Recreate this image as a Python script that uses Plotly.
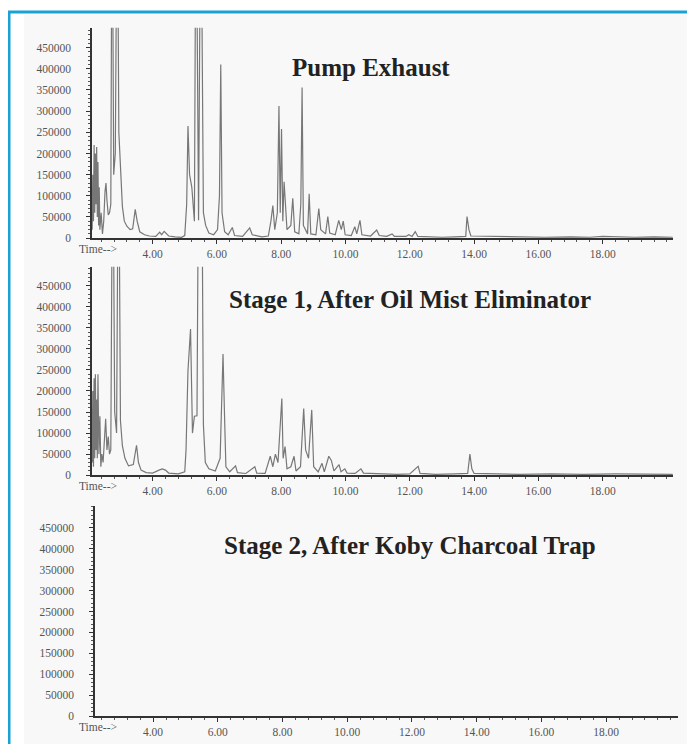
import plotly.graph_objects as go

# ---- data (time in min, abundance) ----
pump_time = [2.12, 2.14, 2.16, 2.18, 2.20, 2.22, 2.24, 2.26, 2.28, 2.30, 2.32, 2.34, 2.36, 2.40,
             2.44, 2.48, 2.52, 2.55, 2.58, 2.62, 2.66, 2.70, 2.74, 2.79, 2.84, 2.90, 2.95, 3.00,
             3.06, 3.12, 3.20, 3.30, 3.38, 3.46, 3.52, 3.60, 3.75, 3.90, 4.10, 4.22, 4.28, 4.36,
             4.44, 4.50, 4.70, 4.90, 5.00, 5.06, 5.10, 5.15, 5.22, 5.30, 5.35, 5.43, 5.50, 5.58,
             5.65, 5.75, 5.90, 6.02, 6.08, 6.12, 6.16, 6.24, 6.35, 6.48, 6.55, 6.80, 7.02, 7.10,
             7.40, 7.60, 7.68, 7.74, 7.80, 7.88, 7.93, 7.97, 8.01, 8.05, 8.09, 8.18, 8.30, 8.36,
             8.42, 8.55, 8.61, 8.65, 8.69, 8.82, 8.87, 8.92, 9.08, 9.17, 9.23, 9.38, 9.45, 9.51,
             9.68, 9.79, 9.87, 9.93, 9.99, 10.18, 10.29, 10.35, 10.45, 10.51, 10.78, 10.97, 11.05,
             11.28, 11.45, 11.52, 11.88, 11.97, 12.07, 12.17, 12.25, 12.60, 13.00, 13.40, 13.74,
             13.78, 13.84, 13.90, 14.40, 14.80, 15.40, 16.20, 17.00, 17.60, 18.00, 18.60, 19.00,
             19.60, 20.18]
pump_signal = [20000, 150000, 40000, 220000, 60000, 200000, 80000, 215000, 50000, 180000, 30000,
               120000, 20000, 60000, 10000, 40000, 110000, 130000, 90000, 55000, 60000, 80000,
               900000, 150000, 200000, 900000, 250000, 160000, 75000, 40000, 28000, 20000, 22000,
               68000, 40000, 15000, 8000, 5000, 4000, 14000, 8000, 16000, 10000, 5000, 3000, 2000,
               6000, 80000, 265000, 150000, 120000, 40000, 900000, 42000, 900000, 60000, 30000,
               12000, 8000, 20000, 100000, 410000, 60000, 15000, 8000, 25000, 6000, 4000, 24000,
               8000, 3000, 5000, 40000, 77000, 20000, 60000, 312000, 60000, 258000, 40000, 133000,
               20000, 30000, 94000, 15000, 10000, 80000, 356000, 30000, 10000, 105000, 10000, 8000,
               70000, 20000, 10000, 51000, 12000, 8000, 42000, 20000, 40000, 8000, 6000, 27000,
               10000, 42000, 8000, 5000, 19000, 6000, 4000, 10000, 4000, 4000, 8000, 4000, 15000,
               4000, 3000, 2000, 3000, 4000, 51000, 20000, 5000, 4000, 4000, 3000, 2000, 3000,
               2000, 4000, 3000, 2000, 3000, 2000, 2000]

stage1_time = [2.12, 2.14, 2.16, 2.18, 2.20, 2.22, 2.24, 2.26, 2.28, 2.30, 2.33, 2.36, 2.39, 2.42,
               2.46, 2.50, 2.54, 2.58, 2.62, 2.66, 2.70, 2.76, 2.82, 2.88, 2.94, 3.00, 3.06, 3.14,
               3.25, 3.40, 3.50, 3.56, 3.64, 3.80, 4.00, 4.20, 4.30, 4.40, 4.50, 4.80, 5.00, 5.04,
               5.10, 5.18, 5.24, 5.30, 5.38, 5.44, 5.52, 5.58, 5.64, 5.75, 5.95, 6.10, 6.19, 6.24,
               6.28, 6.40, 6.58, 6.64, 6.90, 7.18, 7.24, 7.50, 7.66, 7.74, 7.82, 7.90, 8.02, 8.06,
               8.12, 8.18, 8.30, 8.40, 8.46, 8.60, 8.70, 8.76, 8.85, 8.95, 9.01, 9.15, 9.27, 9.34,
               9.48, 9.56, 9.64, 9.80, 9.86, 9.98, 10.05, 10.30, 10.48, 10.56, 10.80, 11.20, 11.60,
               12.00, 12.26, 12.32, 12.80, 13.40, 13.80, 13.87, 13.93, 14.00, 14.60, 15.40, 16.40,
               17.40, 18.40, 19.40, 20.18]
stage1_signal = [30000, 200000, 20000, 230000, 40000, 240000, 60000, 180000, 40000, 240000, 50000,
                 140000, 20000, 50000, 30000, 100000, 134000, 60000, 92000, 50000, 60000, 900000,
                 150000, 100000, 900000, 130000, 70000, 40000, 22000, 25000, 71000, 30000, 12000,
                 6000, 5000, 12000, 15000, 12000, 5000, 3000, 8000, 60000, 248000, 347000, 100000,
                 140000, 141000, 900000, 900000, 120000, 30000, 15000, 10000, 40000, 288000, 133000,
                 20000, 8000, 22000, 6000, 4000, 20000, 5000, 4000, 45000, 20000, 50000, 30000,
                 182000, 40000, 68000, 15000, 20000, 45000, 10000, 20000, 158000, 60000, 40000,
                 155000, 20000, 8000, 28000, 8000, 45000, 35000, 10000, 25000, 8000, 15000, 5000,
                 4000, 15000, 5000, 4000, 3000, 2000, 3000, 21000, 4000, 2000, 3000, 4000, 50000,
                 15000, 4000, 3000, 2000, 3000, 2000, 3000, 2000, 2000]

# stage 2: nothing detected
stage2_time = []
stage2_signal = []

titles = ["Pump Exhaust", "Stage 1, After Oil Mist Eliminator", "Stage 2, After Koby Charcoal Trap"]
y_ticks = [0, 50000, 100000, 150000, 200000, 250000, 300000, 350000, 400000, 450000]
x_ticks = [4, 6, 8, 10, 12, 14, 16, 18]

# the page body has an 8px margin, so the figure is made smaller and
# positions below are given in window pixels, shifted by that margin
W, H = 679, 736
OFF = 8

def px(x):
    return (x - OFF) / W

def py(y):
    return 1 - (y - OFF) / H

fig = go.Figure()
fig.add_trace(go.Scatter(x=pump_time, y=pump_signal, mode="lines",
                         line=dict(color="#777777", width=1.2), xaxis="x", yaxis="y"))
fig.add_trace(go.Scatter(x=stage1_time, y=stage1_signal, mode="lines",
                         line=dict(color="#777777", width=1.2), xaxis="x2", yaxis="y2"))
fig.add_trace(go.Scatter(x=stage2_time, y=stage2_signal, mode="lines",
                         line=dict(color="#777777", width=1.2), xaxis="x3", yaxis="y3"))

tick_font = dict(family="Liberation Serif", size=11.5, color="#555555")

# (x domain px, x range, y domain px (bottom, top), y max)
panels = [
    ((92, 673), (2.115, 20.187), (240, 28), 496900),
    ((92, 673), (2.115, 20.187), (479, 269), 494800),
    ((95, 678), (2.206, 20.22), (722, 510), 502100),
]

layout = dict(
    width=W, height=H, margin=dict(l=0, r=0, t=0, b=0),
    paper_bgcolor="white", plot_bgcolor="rgba(0,0,0,0)", showlegend=False,
)
for i, (xd, xr, yd, ymax) in enumerate(panels):
    sfx = "" if i == 0 else str(i + 1)
    layout["xaxis" + sfx] = dict(
        domain=[px(xd[0]), min(px(xd[1]), 1)], range=list(xr), anchor="y" + sfx,
        showgrid=False, zeroline=False, showline=True, linecolor="#333333", linewidth=1.5,
        tickvals=x_ticks, ticktext=[f"{v:.2f}" for v in x_ticks],
        ticks="outside", ticklen=4, tickcolor="#333333", tickfont=tick_font,
        minor=dict(tick0=4, dtick=0.4, ticks="outside", ticklen=2, tickcolor="#555555"),
        fixedrange=True,
    )
    layout["yaxis" + sfx] = dict(
        domain=[py(yd[0]), py(yd[1])], range=[0, ymax], anchor="x" + sfx,
        showgrid=False, zeroline=False, showline=True, linecolor="#333333", linewidth=1.5,
        tickvals=y_ticks, ticktext=[str(v) for v in y_ticks],
        ticks="outside", ticklen=4, tickcolor="#333333", tickfont=tick_font,
        ticklabelstandoff=13,
        minor=dict(dtick=10000, ticks="outside", ticklen=2, tickcolor="#555555"),
        fixedrange=True,
    )
fig.update_layout(**layout)

# frame: teal border and light panel
fig.add_shape(type="rect", xref="paper", yref="paper", x0=px(9), x1=1.1, y0=-0.1, y1=py(12),
              line=dict(color="#19a3d5", width=3), fillcolor="white", layer="below")
fig.add_shape(type="rect", xref="paper", yref="paper", x0=px(24), x1=px(691), y0=-0.1, y1=py(15),
              line=dict(width=0), fillcolor="#f8f8f8", layer="below")

title_pos = [(371, 68), (410, 302), (410, 550)]
for t, (tx, ty) in zip(titles, title_pos):
    fig.add_annotation(text=t, x=px(tx), y=py(ty), xref="paper", yref="paper",
                       showarrow=False, xanchor="center", yanchor="middle",
                       font=dict(family="Liberation Serif", size=25, color="#222222", weight="bold"))

for ty in (251, 490, 733):
    fig.add_annotation(text="Time-->", x=px(98), y=py(ty), xref="paper", yref="paper",
                       showarrow=False, xanchor="center", yanchor="middle", font=tick_font)

fig.write_html("out.html")
